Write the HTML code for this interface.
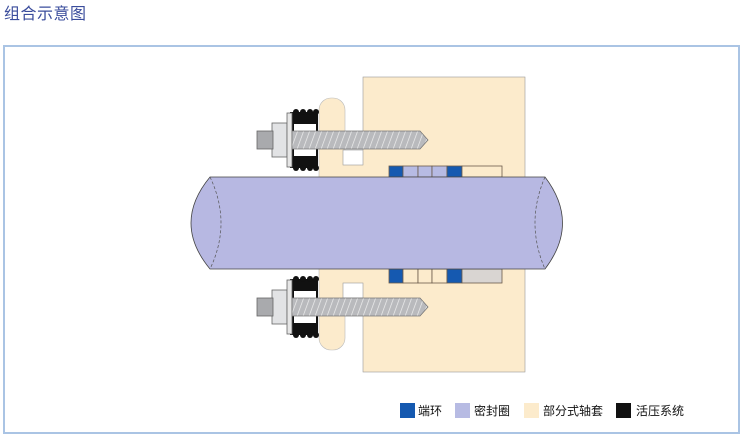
<!DOCTYPE html>
<html><head><meta charset="utf-8"><style>
body{margin:0;width:743px;height:434px;background:#fff;overflow:hidden;position:relative;font-family:"Liberation Sans","Noto Sans CJK SC",sans-serif}
.t{position:absolute;left:4px;top:0px;font-size:16px;color:#3a4c9c;letter-spacing:0.5px}
.box{position:absolute;left:3px;top:45px;width:733px;height:385px;border:2px solid #aac4e4}
</style></head><body>
<div class="t">组合示意图</div>
<div class="box"></div>
<svg width="743" height="434" style="position:absolute;left:0;top:0">
<defs>
<pattern id="th" width="6" height="20" patternUnits="userSpaceOnUse" patternTransform="skewX(-20)">
<rect width="6" height="20" fill="#b9babd"/><line x1="0" y1="0" x2="0" y2="20" stroke="#eee" stroke-width="1.5"/></pattern>
<g id="bolt">
<rect x="272" y="-17" width="15" height="34" fill="#e2e3e5" stroke="#666" stroke-width="0.8"/>
<rect x="257" y="-9" width="16" height="18" fill="#a9aaad" stroke="#666" stroke-width="0.8"/>
<rect x="290" y="-28" width="28" height="56" fill="#111"/>
<rect x="294" y="-16" width="22" height="32" fill="#fff"/>
<g fill="#111"><circle cx="296" cy="-28" r="3"/><circle cx="303" cy="-28" r="3"/><circle cx="310" cy="-28" r="3"/><circle cx="316" cy="-28" r="3"/><circle cx="296" cy="28" r="3"/><circle cx="303" cy="28" r="3"/><circle cx="310" cy="28" r="3"/><circle cx="316" cy="28" r="3"/></g>
<rect x="287" y="-27" width="5" height="54" fill="#e6e6e6" stroke="#666" stroke-width="0.8"/>
<path d="M292,-9 H420 L428,0 L420,9 H292 Z" fill="url(#th)" stroke="#777" stroke-width="0.8"/>
</g>
</defs>
<rect x="363" y="77" width="162" height="295" fill="#fcebcc" stroke="#999" stroke-width="0.6"/>
<rect x="319" y="98" width="26" height="252" rx="12" fill="#fcebcc" stroke="#bbb" stroke-width="0.6"/>
<rect x="343" y="150" width="22" height="160" fill="#fcebcc"/>
<rect x="343" y="150" width="20" height="15" fill="#fff" stroke="#999" stroke-width="0.6"/>
<rect x="343" y="283" width="20" height="15" fill="#fff" stroke="#999" stroke-width="0.6"/>
<use href="#bolt" transform="translate(0,140)"/>
<use href="#bolt" transform="translate(0,307)"/>
<g stroke="#6a5a4a" stroke-width="0.8">
<rect x="389" y="166" width="14" height="11" fill="#1559b0"/>
<rect x="403" y="166" width="15" height="11" fill="#b7bbe3"/>
<rect x="418" y="166" width="14" height="11" fill="#b7bbe3"/>
<rect x="432" y="166" width="15" height="11" fill="#b7bbe3"/>
<rect x="447" y="166" width="15" height="11" fill="#1559b0"/>
<rect x="462" y="166" width="40" height="11" fill="#fcebcc"/>
<rect x="389" y="269" width="14" height="14" fill="#1559b0"/>
<rect x="403" y="269" width="15" height="14" fill="#fcebcc"/>
<rect x="418" y="269" width="14" height="14" fill="#fcebcc"/>
<rect x="432" y="269" width="15" height="14" fill="#fcebcc"/>
<rect x="447" y="269" width="15" height="14" fill="#1559b0"/>
<rect x="462" y="269" width="40" height="14" fill="#d9d5d2"/>
</g>
<path d="M210,177 H545 Q580,223 545,269 H210 Q172,223 210,177 Z" fill="#b7b8e2" stroke="#444" stroke-width="0.8"/>
<path d="M210,177 Q232,223 210,269 M545,177 Q525,223 545,269" fill="none" stroke="#555" stroke-width="0.7" stroke-dasharray="3,2"/>
<g font-size="12" fill="#111">
<rect x="400" y="403" width="15" height="15" fill="#1559b0"/><text x="418" y="415">端环</text>
<rect x="455" y="403" width="15" height="15" fill="#b7bbe3"/><text x="474" y="415">密封圈</text>
<rect x="524" y="403" width="15" height="15" fill="#fcebcc"/><text x="543" y="415">部分式轴套</text>
<rect x="616" y="403" width="15" height="15" fill="#111"/><text x="636" y="415">活压系统</text>
</g>
</svg>
</body></html>
